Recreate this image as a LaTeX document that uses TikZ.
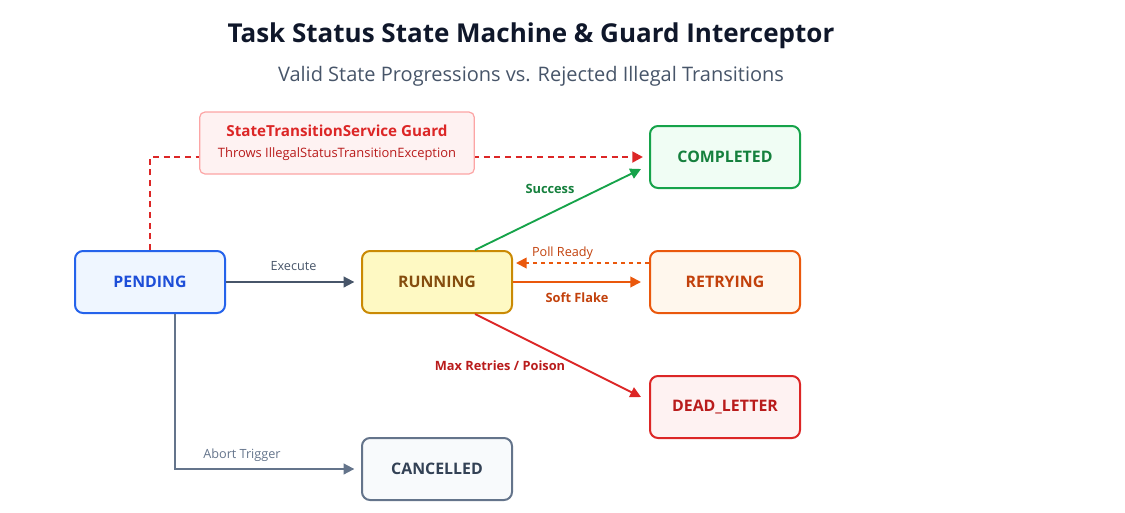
\documentclass[tikz,border=0pt]{standalone}
\usepackage{fontspec}
\setmainfont{Open Sans}
\usetikzlibrary{arrows.meta,calc}

\definecolor{titlec}{HTML}{0F172A}
\definecolor{subc}{HTML}{475569}
\definecolor{slate}{HTML}{64748B}
\definecolor{blueb}{HTML}{2563EB}
\definecolor{bluef}{HTML}{EFF6FF}
\definecolor{bluet}{HTML}{1D4ED8}
\definecolor{yelb}{HTML}{CA8A04}
\definecolor{yelf}{HTML}{FEF9C3}
\definecolor{yelt}{HTML}{854D0E}
\definecolor{greenb}{HTML}{16A34A}
\definecolor{greenf}{HTML}{F0FDF4}
\definecolor{greent}{HTML}{15803D}
\definecolor{orab}{HTML}{EA580C}
\definecolor{oraf}{HTML}{FFF7ED}
\definecolor{orat}{HTML}{C2410C}
\definecolor{redb}{HTML}{DC2626}
\definecolor{redf}{HTML}{FEF2F2}
\definecolor{redt}{HTML}{B91C1C}
\definecolor{grayf}{HTML}{F8FAFC}
\definecolor{grayt}{HTML}{334155}
\definecolor{guardb}{HTML}{FCA5A5}

\begin{document}
\begin{tikzpicture}[x=0.75pt, y=-0.75pt,
    state/.style={rectangle, rounded corners=6pt, draw, line width=1.5pt, minimum width=112.5pt, minimum height=46.5pt, align=center, font=\fontsize{11.9}{14}\selectfont\bfseries},
    arrow/.style={-{Triangle[length=8pt, width=8pt]}, line width=1.4pt},
    lbl/.style={font=\fontsize{9.5}{11}\selectfont, inner sep=2pt},
    blbl/.style={font=\fontsize{9.6}{11}\selectfont\bfseries, inner sep=2pt}
]
    \useasboundingbox (0,0) rectangle (1125,512);

    % Title
    \node[font=\fontsize{19.5}{23}\selectfont\bfseries, text=titlec] (title) at (531,36) {Task Status State Machine \& Guard Interceptor};
    \node[font=\fontsize{15}{18}\selectfont, text=subc] (subtitle) at (531,76) {Valid State Progressions vs. Rejected Illegal Transitions};

    % States
    \node[state, fill=bluef, draw=blueb, text=bluet] (pending) at (150,282) {PENDING};
    \node[state, fill=yelf, draw=yelb, text=yelt] (running) at (437,282) {RUNNING};
    \node[state, fill=greenf, draw=greenb, text=greent] (completed) at (725,157) {COMPLETED};
    \node[state, fill=oraf, draw=orab, text=orat] (retrying) at (725,282) {RETRYING};
    \node[state, fill=redf, draw=redb, text=redt] (dead) at (725,407) {DEAD\_LETTER};
    \node[state, fill=grayf, draw=slate, text=grayt] (cancelled) at (437,469) {CANCELLED};

    % Arrows
    \draw[arrow, draw=subc, shorten >=5pt] (pending) -- (running)
        node[lbl, midway, above, text=subc, yshift=6pt] {Execute};
    \draw[arrow, draw=greenb] ($(running.north)+(38,0)$) -- ($(completed.west)+(-8,12)$)
        node[blbl, midway, above=9pt, xshift=-6pt, text=greent] {Success};
    \draw[arrow, draw=orab, dashed, line width=1.4pt] ($(retrying.west)+(0,-19)$) -- ($(running.east)+(3,-19)$)
        node[lbl, pos=0.65, above, text=orat] {Poll Ready};
    \draw[arrow, draw=orab] (running.east) -- ($(retrying.west)+(-8,0)$)
        node[blbl, midway, below=5pt, text=orat] {Soft Flake};
    \draw[arrow, draw=redb] ($(running.south)+(38,0)$) -- ($(dead.west)+(-8,-10)$)
        node[blbl, midway, xshift=-43.5pt, yshift=-7.5pt, text=redt] {Max Retries / Poison};
    \draw[arrow, draw=slate, shorten >=5pt] ($(pending.south)+(25,0)$) |- (cancelled.west)
        node[lbl, pos=0.68, above, text=slate, yshift=3pt] {Abort Trigger};

    % Guard
    \draw[arrow, draw=redb, line width=2pt, dash pattern=on 4.5pt off 3.5pt] (pending.north) |- ($(completed.west)+(-6,0)$);
    \node[rectangle, rounded corners=4pt, draw=guardb, line width=0.9pt, fill=redf, minimum width=206pt, minimum height=46.5pt, align=center] (guard) at (337,143)
        {{\fontsize{11.4}{15}\selectfont\bfseries\color{redb}StateTransitionService Guard}\\[4pt]
         {\fontsize{9.7}{11}\selectfont\color{redt}Throws IllegalStatusTransitionException}};

\end{tikzpicture}
\end{document}
